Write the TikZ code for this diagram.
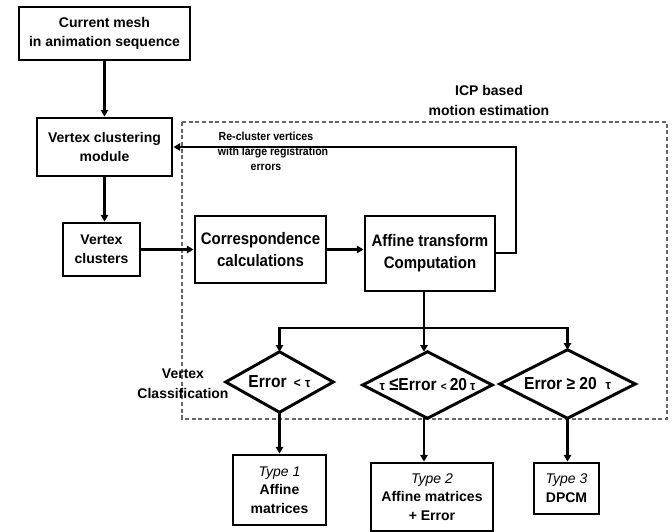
\documentclass[tikz,border=0pt]{standalone}
\usepackage{fontspec}
\setmainfont{Liberation Sans}
\newfontfamily\nf{Liberation Sans}[FakeStretch=0.9]
\usetikzlibrary{arrows.meta}
\tikzset{
  box/.style={draw, line width=2.2pt, inner sep=0pt, align=center, font=\bfseries\fontsize{10.5}{14}\selectfont},
  bigbox/.style={box, font=\nf\bfseries\fontsize{12.5}{16.5}\selectfont},
  dia/.style={inner sep=0pt, align=center, font=\nf\bfseries\fontsize{13}{15}\selectfont},
  diaedge/.style={line width=2.2pt, line join=miter},
  arr/.style={line width=2pt, -{Triangle[length=5pt,width=5.5pt]}},
  lab/.style={align=center, inner sep=0pt, font=\bfseries\fontsize{10.5}{15}\selectfont},
  dashbox/.style={draw=black!60, line width=0.8pt, dash pattern=on 3pt off 2pt},
}
\newcommand{\smt}{{\fontsize{10}{10}\selectfont τ}}
\newcommand{\sml}{{\fontsize{10}{10}\selectfont <}}
\begin{document}
\begin{tikzpicture}[x=0.75pt,y=-0.75pt]
\useasboundingbox (0,0) rectangle (672,532);
% dashed region
\draw[dashbox] (182,122) rectangle (667,419);
\node[lab] (icp) at (489,100) {ICP based\\motion estimation};
\node[lab] (vcl) at (183,384) {Vertex\\Classification};
% boxes
\node[box, minimum width=128.25pt, minimum height=39.75pt] (cm) at (104.5,33.5) {Current mesh\\in animation sequence};
\node[box, minimum width=101.25pt, minimum height=43.5pt] (vcm) at (104.5,147) {Vertex clustering\\module};
\node[box, minimum width=57.75pt, minimum height=39.75pt] (vc) at (101.5,249.5) {Vertex\\clusters};
\node[bigbox, minimum width=98.25pt, minimum height=50.25pt] (corr) at (260.5,249.5) {Correspondence\\calculations};
\node[bigbox, minimum width=97.5pt, minimum height=56.25pt] (aff) at (430,253.5) {Affine transform\\Computation};
% diamonds
\node[dia, minimum width=80.25pt, minimum height=45pt] (d1) at (279.5,382) {Error\,\ \sml\ \smt};
\node[dia, minimum width=96.75pt, minimum height=49.5pt] (d2) at (427.5,385) {\smt\ {\fontsize{14}{14}\selectfont ≤}Error\ {\fontsize{8.5}{8.5}\selectfont <}\,20\,\smt};
\node[dia, minimum width=101.25pt, minimum height=51pt] (d3) at (567.5,384) {Error ≥ 20 \ \smt};
\foreach \d in {d1,d2,d3}
  \draw[diaedge] (\d.north) -- (\d.east) -- (\d.south) -- (\d.west) -- cycle;
% type boxes
\node[box, minimum width=69.75pt, minimum height=52.5pt] (t1) at (279.5,490) {{\mdseries\itshape Type 1}\\Affine\\matrices};
\node[box, minimum width=91.5pt, minimum height=51pt] (t2) at (432,497) {{\mdseries\itshape Type 2}\\Affine matrices\\+ Error};
\node[box, minimum width=48.75pt, minimum height=38.25pt] (t3) at (566.5,488.5) {{\mdseries\itshape Type 3}\\DPCM};
% connectors
\draw[arr] (cm.south) -- (vcm.north);
\draw[arr] (vcm.south) -- (vcm.south |- vc.north);
\draw[arr] (vc.east) -- (corr.west);
\draw[arr] (corr.east) -- (corr.east -| aff.west);
\coordinate (fb) at (516,253);
\draw[arr, line join=miter] (fb -| aff.east) -- (fb) |- (vcm.east);
\node[align=center, inner sep=0pt, font=\nf\bfseries\fontsize{8.8}{11.3}\selectfont] (rlab) at (266,151) {Re-cluster vertices\\\hspace*{1.2em}with large registration\\errors};
\coordinate (split) at (424,328);
\draw[line width=2pt] (split |- aff.south) -- (split);
\draw[arr] (split) -- (split |- d2.north);
\draw[arr, line join=miter] (split) -| (d1.north);
\draw[arr, line join=miter] (split) -| (d3.north);
\draw[arr] (d1.south) -- (t1.north);
\draw[arr] (d2.south -| split) -- (split |- t2.north);
\draw[arr] (d3.south) -- (d3.south |- t3.north);
\end{tikzpicture}
\end{document}
